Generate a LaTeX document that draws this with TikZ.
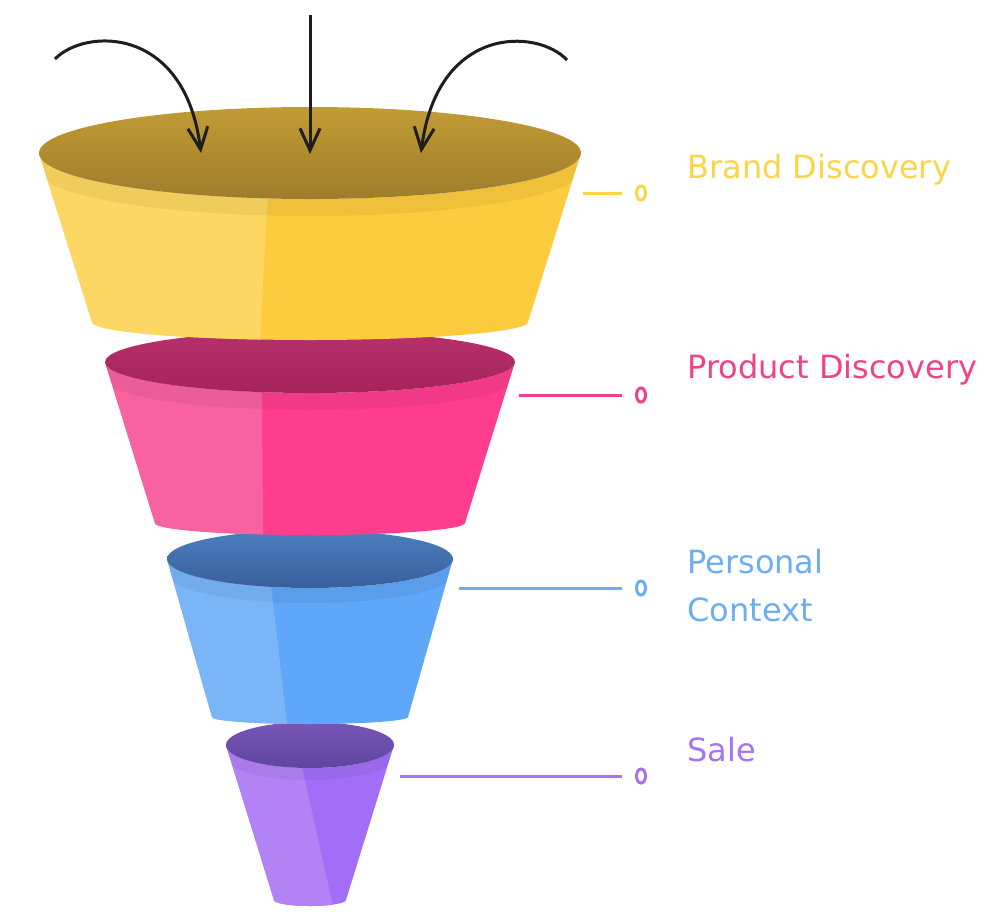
\documentclass[tikz,border=0pt]{standalone}
\usepackage{fontspec}
\newfontfamily\labelfont{DejaVu Sans}
\usetikzlibrary{arrows.meta}
\usetikzlibrary{shapes.geometric}

\definecolor{yelL}{HTML}{FDD763}
\definecolor{yelR}{HTML}{FCCB3E}
\definecolor{yelA}{HTML}{C19C34}
\definecolor{yelB}{HTML}{9F7C2C}
\definecolor{yelText}{HTML}{F9D548}
\definecolor{pnkL}{HTML}{F862A0}
\definecolor{pnkR}{HTML}{FF3D8F}
\definecolor{pnkA}{HTML}{B8306A}
\definecolor{pnkB}{HTML}{A42459}
\definecolor{pnkText}{HTML}{EF4289}
\definecolor{bluL}{HTML}{7AB6F7}
\definecolor{bluR}{HTML}{5FA7F8}
\definecolor{bluA}{HTML}{4B7FBE}
\definecolor{bluB}{HTML}{395F9C}
\definecolor{bluText}{HTML}{6BAEF3}
\definecolor{purL}{HTML}{B383F6}
\definecolor{purR}{HTML}{A36EF7}
\definecolor{purA}{HTML}{7756B6}
\definecolor{purB}{HTML}{5E45A0}
\definecolor{purText}{HTML}{A674F0}
\definecolor{ink}{HTML}{1E1E1E}

\tikzset{
    lbl/.style={font=\labelfont\fontsize{16}{24}\selectfont, inner sep=0pt, anchor=base west},
    ring/.style={draw, ellipse, minimum width=4.5pt, minimum height=7pt, inner sep=0pt, line width=1.5pt},
    lead/.style={line width=1.5pt, shorten >=6.5pt},
    feed/.style={draw=ink, line width=1.5pt, -{Straight Barb[length=11pt,width=10pt]}}
}

\begin{document}
\begin{tikzpicture}[x=0.5pt,y=0.5pt]
                \useasboundingbox (0,0) rectangle (990,-916);
                % funnel parts, bottom one first
                \foreach \col/\cy/\rx/\ry/\bx/\yb/\by/\sa/\sb/\bw in
                    {pur/745/84/23/36/900/6/297/333/12,
                     blu/559/143/29/98/717/7/268/287/15,
                     pnk/362/205/31/155/523/12/262/263/17,
                     yel/153/271/46/218/322/18/270/260/17}
                {
                    \begin{scope}
                        \clip (310-\rx,-\cy) -- (310-\bx,-\yb)
                            arc[start angle=180, end angle=360, x radius=\bx, y radius=\by]
                            -- (310+\rx,-\cy)
                            arc[start angle=0, end angle=-180, x radius=\rx, y radius=\ry] -- cycle;
                        \fill[\col R] (0,0) rectangle (990,-916);
                        \fill[\col L] (0,-\cy) -- (\sa,-\cy) -- (\sb,-\yb-\by) -- (0,-\yb-\by) -- cycle;
                        \fill[black, opacity=.05] (310-\rx,-\cy-\bw)
                            arc[start angle=180, end angle=360, x radius=\rx, y radius=\ry]
                            -- (310+\rx,-\cy)
                            arc[start angle=0, end angle=-180, x radius=\rx, y radius=\ry] -- cycle;
                    \end{scope}
                    \shade[top color=\col A, bottom color=\col B] (310,-\cy) ellipse [x radius=\rx, y radius=\ry];
                }
                % arrows into the funnel
                \coordinate (inL) at (55,-59);
                \coordinate (inC) at (310,-15);
                \coordinate (inR) at (567,-60);
                \coordinate (tipL) at (201,-153);
                \coordinate (tipC) at (310,-154);
                \coordinate (tipR) at (421,-153);
                \draw[feed] (inL) .. controls (85,-28) and (185,-25) .. (tipL);
                \draw[feed] (inC) -- (tipC);
                \draw[feed] (inR) .. controls (537,-28) and (437,-25) .. (tipR);
                % leaders and labels
                \coordinate (yel-edge) at (583,-193);
                \coordinate (pnk-edge) at (519,-395);
                \coordinate (blu-edge) at (459,-588);
                \coordinate (pur-edge) at (400,-776);
                \node[ring, draw=yelText] (yel-ring) at (641,-193) {};
                \node[ring, draw=pnkText] (pnk-ring) at (641,-395) {};
                \node[ring, draw=bluText] (blu-ring) at (641,-588) {};
                \node[ring, draw=purText] (pur-ring) at (641,-776) {};
                \draw[lead, yelText] (yel-edge) -- (yel-ring);
                \draw[lead, pnkText] (pnk-edge) -- (pnk-ring);
                \draw[lead, bluText] (blu-edge) -- (blu-ring);
                \draw[lead, purText] (pur-edge) -- (pur-ring);
                \node[lbl, text=yelText] (brand) at (687,-178) {Brand Discovery};
                \node[lbl, text=pnkText] (product) at (687,-378) {Product Discovery};
                \node[lbl, text=bluText, align=left] (personal) at (687,-621) {Personal\\Context};
                \node[lbl, text=purText] (sale) at (687,-761) {Sale};
            \end{tikzpicture}
\end{document}
